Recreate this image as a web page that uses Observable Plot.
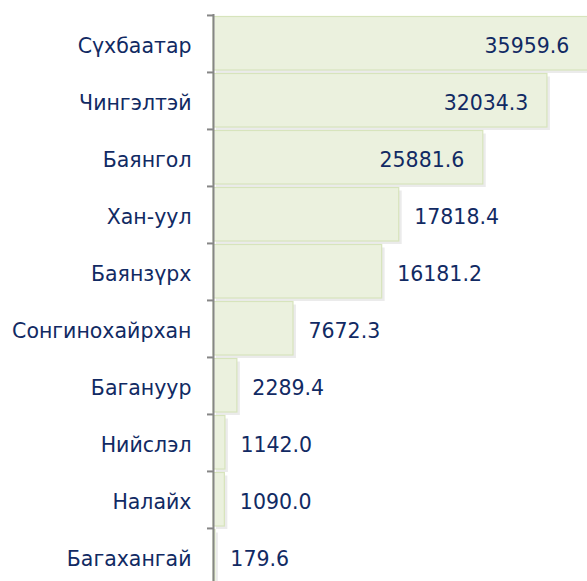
<!DOCTYPE html>
<html>
<head>
<meta charset="utf-8">
<script src="https://cdn.jsdelivr.net/npm/d3@7"></script>
<script src="https://cdn.jsdelivr.net/npm/@observablehq/plot@0.6"></script>
<style>
  html, body { margin: 0; padding: 0; background: #fff; }
  #chart svg { display: block; }
</style>
</head>
<body>
<div id="chart"></div>
<script>
const districts = ["Сүхбаатар", "Чингэлтэй", "Баянгол", "Хан-уул", "Баянзүрх", "Сонгинохайрхан", "Багануур", "Нийслэл", "Налайх", "Багахангай"];
const values = [35959.6, 32034.3, 25881.6, 17818.4, 16181.2, 7672.3, 2289.4, 1142.0, 1090.0, 179.6];

const data = districts.map((d, i) => ({district: d, value: values[i]}));

const W = 587, H = 581, mTop = 14, mBottom = -4, mLeft = 213;
const band = (H - mTop - mBottom) / districts.length;
const navy = "#112A63";
const font = "'DejaVu Sans', sans-serif";
const fs = 20.5;

const chart = Plot.plot({
  width: W,
  height: H,
  marginLeft: mLeft,
  marginRight: 0,
  marginTop: mTop,
  marginBottom: mBottom,
  style: {fontFamily: font, fontSize: fs + "px", color: navy, background: "#fff", overflow: "hidden"},
  x: {domain: [0, 35880], axis: null},
  y: {domain: districts, padding: 0, axis: null},
  marks: [
    // shadow
    Plot.barX(data, {x: "value", y: "district", dx: 3, dy: 3, insetTop: 1.5, insetBottom: 2, fill: "#000", fillOpacity: 0.08}),
    Plot.barX(data, {x: "value", y: "district", insetTop: 1.5, insetBottom: 2, fill: "#EBF1DE", stroke: "#D7E4BC", strokeWidth: 1.2}),
    // axis line
    Plot.ruleX([0], {stroke: "#868686", strokeWidth: 2}),
    // boundary ticks
    Plot.ruleY(districts, {y: d => d, x1: 0, x2: 0, insetLeft: -6, dy: -band / 2, stroke: "#868686", strokeWidth: 2}),
    Plot.axisY({tickSize: 0, tickPadding: 22, fontSize: fs, fill: navy, dy: 2, label: null}),
    // value labels
    Plot.text(data.filter(d => d.value > 20000), {x: "value", y: "district", text: d => d.value.toFixed(1), textAnchor: "end", dx: -19, dy: 2, fill: navy, fontSize: fs}),
    Plot.text(data.filter(d => d.value <= 20000), {x: "value", y: "district", text: d => d.value.toFixed(1), textAnchor: "start", dx: 15, dy: 2, fill: navy, fontSize: fs})
  ]
});
document.getElementById("chart").appendChild(chart);
</script>
</body>
</html>
